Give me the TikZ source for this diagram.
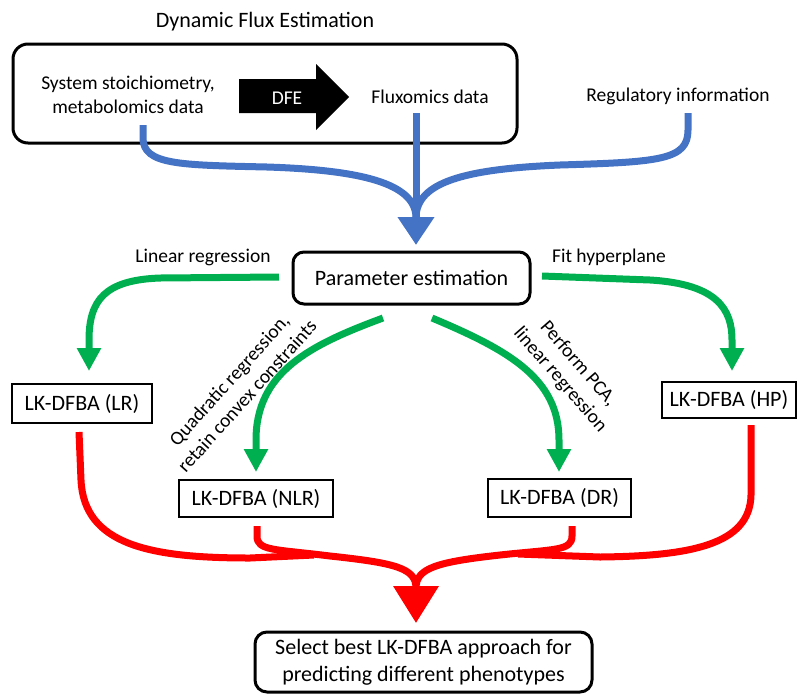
\documentclass[tikz,border=0pt]{standalone}
\usepackage{fontspec}
\setmainfont{Carlito}
\usetikzlibrary{arrows.meta}
\definecolor{fblue}{HTML}{4472C4}
\definecolor{fgreen}{HTML}{00B050}
\definecolor{fred}{HTML}{FF0000}
\newcommand{\bigfnt}{\fontsize{22}{27}\selectfont}
\newcommand{\labfnt}{\fontsize{19.5}{24}\selectfont}
\begin{document}
\begin{tikzpicture}[x=1pt,y=-1pt,
  rbox/.style={draw, rounded corners=11pt, line width=3pt, inner sep=0pt},
  sbox/.style={draw, line width=2.5pt, inner sep=0pt, font=\bigfnt},
  txt/.style={inner sep=0pt, align=center, font=\labfnt},
  bl/.style={draw=fblue, line width=7pt},
  gr/.style={draw=fgreen, line width=7pt},
  rd/.style={draw=fred, line width=7pt},
  ghead/.style={-{Triangle[width=23pt,length=23pt]}},
]
\useasboundingbox (0,0) rectangle (800,694);

% top group
\node[font=\bigfnt, inner sep=0pt] (title) at (265,22) {Dynamic Flux Estimation};
\node[rbox, rounded corners=15pt, minimum width=504pt, minimum height=99pt] (dfebox) at (265,93.5) {};
\node[txt] (sys) at (128,95) {System stoichiometry,\\metabolomics data};
\fill (239,79) -- (316,79) -- (316,64) -- (349,97) -- (316,130) -- (316,113) -- (239,113) -- cycle;
\node[txt, text=white] (dfe) at (287,98) {DFE};
\node[txt] (flux) at (430,97) {Fluxomics data};
\node[txt] (reg) at (678,96) {Regulatory information};

% parameter estimation
\node[rbox, font=\bigfnt, minimum width=237pt, minimum height=52pt] (param) at (411.5,278) {Parameter estimation};

% blue connectors
\coordinate (bs1) at (143,125);
\coordinate (bs2) at (416,113);
\coordinate (bs3) at (688,113);
\coordinate (bmerge) at (416,217);
\coordinate (btip) at (416,245);
\draw[bl] (bs1) -- (143,138) .. controls (143,165) and (180,165) .. (267,167) .. controls (360,170) and (415,183) .. (bmerge);
\draw[bl] (bs3) -- (688,130) .. controls (688,160) and (660,162) .. (560,165) .. controls (462,169) and (417,183) .. (bmerge);
\draw[bl, -{Triangle[width=35pt,length=28pt]}] (bs2) -- (btip);

% labels
\node[txt] (linreg) at (203,257) {Linear regression};
\node[txt] (fit) at (609,257) {Fit hyperplane};
\node[txt, rotate=48] (quad) at (238,388) {Quadratic regression,\\retain convex constraints};
\node[txt, rotate=-49] (pca) at (569,372) {Perform PCA,\\linear regression};

% method boxes
\node[sbox, minimum width=140pt, minimum height=39pt] (lr) at (82,403.5) {LK-DFBA (LR)};
\node[sbox, minimum width=154pt, minimum height=37pt] (nlr) at (256,498.5) {LK-DFBA (NLR)};
\node[sbox, minimum width=143pt, minimum height=38pt] (dr) at (559.5,498) {LK-DFBA (DR)};
\node[sbox, minimum width=134pt, minimum height=36pt] (hp) at (729,400) {LK-DFBA (HP)};

% green connectors
\coordinate (gs1) at (279,277);
\coordinate (gs2) at (542,276);
\coordinate (gs3) at (383,318);
\coordinate (gs4) at (432,318);
\draw[gr, ghead] (gs1) -- (160,278) .. controls (105,280) and (89,300) .. (89,340) -- (89,371);
\draw[gr, ghead] (gs2) -- (650,280) .. controls (718,284) and (732,310) .. (732,340) -- (732,371);
\draw[gr, ghead] (gs3) .. controls (310,345) and (256,372) .. (256,440) -- (256,472);
\draw[gr, ghead] (gs4) .. controls (508,350) and (559,378) .. (559,440) -- (559,472);

% red connectors
\coordinate (rs1) at (79,432);
\coordinate (rs2) at (257,526);
\coordinate (rs3) at (572,526);
\coordinate (rs4) at (751,425);
\coordinate (rmerge) at (416,588);
\coordinate (rtip) at (416,623);
\draw[rd] (rs1) -- (81,480) .. controls (84,545) and (150,558) .. (250,558) -- (314,555);
\draw[rd] (rs4) -- (751,495) .. controls (750,545) and (690,556) .. (600,557) -- (518,554);
\draw[rd] (rs3) -- (572,536) .. controls (572,551) and (555,549) .. (500,555) .. controls (437,562) and (416,568) .. (rmerge);
\draw[rd, -{Triangle[width=44pt,length=37pt]}] (rs2) -- (257,536) .. controls (257,551) and (274,549) .. (330,556) .. controls (395,563) and (416,568) .. (416,588) -- (rtip);

% final box
\node[rbox, rounded corners=12pt, font=\bigfnt, align=center, minimum width=337pt, minimum height=60pt] (sel) at (423.5,662) {Select best LK-DFBA approach for\\predicting different phenotypes};
\end{tikzpicture}
\end{document}
